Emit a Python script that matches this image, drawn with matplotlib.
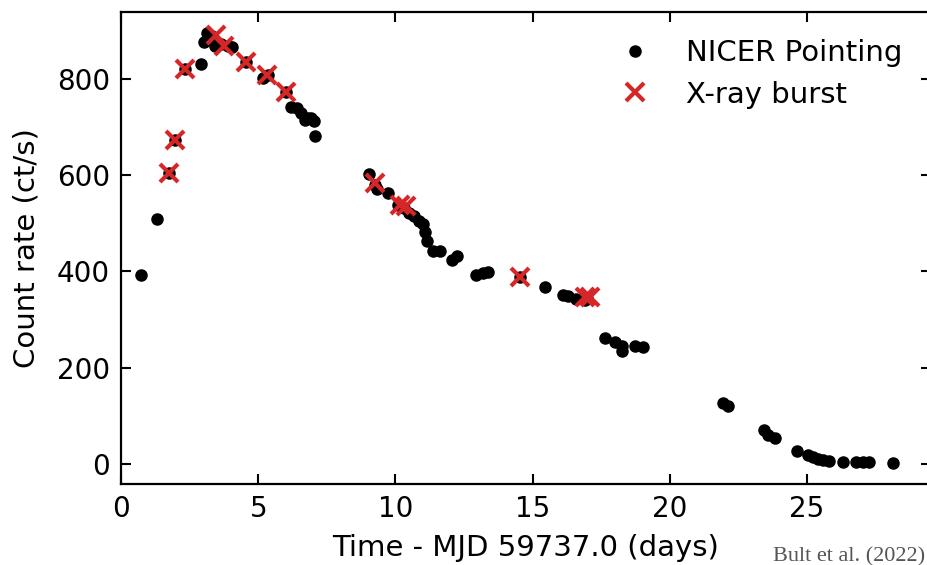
import matplotlib
matplotlib.use("Agg")
import matplotlib.pyplot as plt

# NICER pointing data (time in days since MJD 59737.0, count rate ct/s)
nicer_t = [0.73, 1.31, 1.75, 1.97, 2.33, 2.92, 3.02, 3.13, 3.32, 3.43, 3.64, 3.90, 4.04,
           4.56, 5.17, 5.36, 6.01, 6.20, 6.41, 6.56, 6.71, 6.81, 6.92, 7.03, 7.07,
           9.04, 9.26, 9.33, 9.73, 10.10, 10.30, 10.50, 10.68, 10.86, 11.00, 11.08, 11.15,
           11.37, 11.63, 12.06, 12.24, 12.94, 13.19, 13.37,
           14.54, 15.45, 16.10, 16.30, 16.58, 16.90, 17.00,
           17.64, 18.00, 18.26, 18.26, 18.73, 19.02,
           21.94, 22.12, 23.43, 23.58, 23.83, 24.64, 25.04, 25.22, 25.40, 25.58, 25.80,
           26.31, 26.79, 27.04, 27.26, 28.13]
nicer_rate = [393, 509, 605, 673, 821, 831, 877, 896, 889, 868, 873, 869, 866,
              835, 802, 808, 773, 742, 740, 729, 715, 719, 719, 713, 681,
              603, 580, 571, 563, 538, 532, 521, 515, 505, 499, 482, 463,
              443, 443, 424, 432, 393, 397, 399,
              389, 368, 351, 349, 343, 341, 345,
              262, 253, 245, 235, 245, 243,
              127, 121, 71, 60, 54, 27, 19, 15, 10, 8, 6,
              4, 4, 4, 4, 2]

# X-ray bursts
burst_t = [1.75, 1.97, 2.33, 3.46, 3.75, 4.56, 5.32, 6.01, 9.26, 10.17, 10.39,
           14.54, 16.91, 17.09]
burst_rate = [605, 673, 821, 891, 868, 835, 808, 773, 584, 538, 536,
              389, 347, 347]

xticks = [0, 5, 10, 15, 20, 25]
yticks = [0, 200, 400, 600, 800]

W, H = 927, 565
fig = plt.figure(figsize=(W / 100, H / 100), dpi=100)
ax = fig.add_axes([121 / W, 1 - 484 / H, (930.5 - 121) / W, (484 - 12) / H])

ax.plot(nicer_t, nicer_rate, 'o', color='black', ms=8, ls='none',
        label='NICER Pointing', zorder=2)
ax.plot(burst_t, burst_rate, 'x', color='#d62728', ms=13, mew=3, ls='none',
        label='X-ray burst', zorder=3)

ax.set_xlim(0, 29.5)
ax.set_ylim(-42, 939)
ax.set_xticks(xticks)
ax.set_yticks(yticks)
ax.tick_params(direction='in', top=True, right=True, length=7, width=1.5,
               labelsize=20, pad=8)
for s in ax.spines.values():
    s.set_linewidth(1.6)

ax.set_xlabel('Time - MJD 59737.0 (days)', fontsize=21, labelpad=8)
ax.set_ylabel('Count rate (ct/s)', fontsize=21, labelpad=12)

ax.legend(loc='upper right', frameon=False, fontsize=21, handletextpad=0.9,
          handlelength=1.7, borderaxespad=0.3, bbox_to_anchor=(0.99, 0.985),
          labelspacing=0.45)

fig.text(773 / W, 1 - 557 / H, 'Bult et al. (2022)', family='Liberation Serif',
         fontsize=16, color='#555555', va='center', ha='left')

fig.savefig('out.png', dpi=100)
